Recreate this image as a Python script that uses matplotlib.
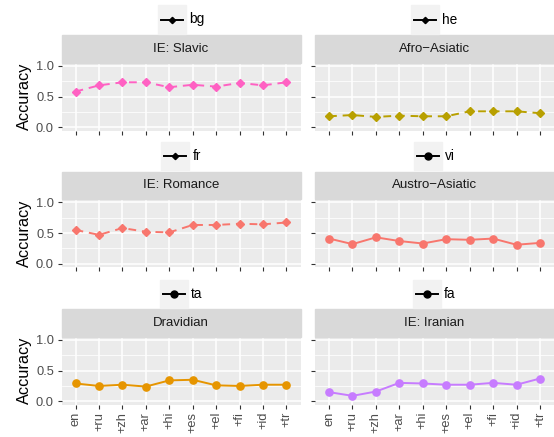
import matplotlib
matplotlib.use("Agg")
import matplotlib.pyplot as plt
from matplotlib.patches import Rectangle
from matplotlib.lines import Line2D

plt.rcParams['font.family'] = ['Liberation Sans', 'DejaVu Sans']

# ── data ─────────────────────────────
pasos = ["en", "+ru", "+zh", "+ar", "+hi", "+es", "+el", "+fi", "+id", "+tr"]

familias = ["IE: Slavic", "Afro\u2212Asiatic", "IE: Romance",
            "Austro\u2212Asiatic", "Dravidian", "IE: Iranian"]
idiomas = ["bg", "he", "fr", "vi", "ta", "fa"]

acc_bg = [0.58, 0.68, 0.73, 0.73, 0.65, 0.69, 0.66, 0.72, 0.68, 0.73]
acc_he = [0.18, 0.20, 0.17, 0.19, 0.18, 0.18, 0.26, 0.26, 0.26, 0.23]
acc_fr = [0.55, 0.47, 0.58, 0.52, 0.51, 0.63, 0.63, 0.65, 0.64, 0.67]
acc_vi = [0.41, 0.32, 0.43, 0.37, 0.33, 0.40, 0.39, 0.41, 0.31, 0.34]
acc_ta = [0.29, 0.25, 0.27, 0.24, 0.34, 0.35, 0.26, 0.25, 0.27, 0.27]
acc_fa = [0.15, 0.09, 0.16, 0.30, 0.29, 0.27, 0.27, 0.30, 0.27, 0.37]
valores = [acc_bg, acc_he, acc_fr, acc_vi, acc_ta, acc_fa]

colores = ["#FF61C3", "#B8A000", "#F8766D", "#F8766D", "#E69500", "#C77CFF"]
punteada = [True, True, True, False, False, False]

# ── layout (pixels) ──────────────────
W, H = 554, 437
COL_X = [61.5, 315]
PANEL_W = 239
ROW_TOP = [62.5, 199, 336.5]
PANEL_H = 68
STRIP_H = 27.5
KEY = 28

fig = plt.figure(figsize=(W / 100, H / 100), dpi=100)
renderer = fig.canvas.get_renderer()


def fx(px):
    return px / W


def fy(py):
    return 1 - py / H


for i in range(6):
    fila, col = divmod(i, 2)
    x0 = COL_X[col]
    top = ROW_TOP[fila]
    ax = fig.add_axes([fx(x0), fy(top + PANEL_H), PANEL_W / W, PANEL_H / H])
    ax.set_facecolor("#EBEBEB")
    for s in ax.spines.values():
        s.set_visible(False)
    xs = list(range(len(pasos)))
    ax.set_xlim(-0.6, len(pasos) - 0.4)
    ax.set_ylim(-0.05, 1.05)
    ax.set_yticks([0.0, 0.5, 1.0])
    ax.set_yticks([0.25, 0.75], minor=True)
    ax.set_xticks(xs)
    ax.grid(True, which="major", color="white", lw=1.1)
    ax.grid(True, which="minor", axis="y", color="white", lw=0.55)
    ax.set_axisbelow(True)
    ax.tick_params(which="major", length=2.9, width=0.8, color="#333333",
                   labelcolor="#4D4D4D", labelsize=9.3, pad=2.5)
    ax.tick_params(which="minor", length=0)

    if punteada[i]:
        ax.plot(xs, valores[i], color=colores[i], lw=1.4, ls=(0, (4, 3)),
                marker="D", ms=3.8, zorder=3)
    else:
        ax.plot(xs, valores[i], color=colores[i], lw=1.4,
                marker="o", ms=5.2, zorder=3)

    if col == 0:
        ax.set_yticklabels(["0.0", "0.5", "1.0"])
        ax.set_ylabel("Accuracy", fontsize=11.7, color="black", labelpad=3)
    else:
        ax.set_yticklabels([])
    if fila == 2:
        ax.set_xticklabels(pasos, rotation=90, va="top", ha="center")
    else:
        ax.set_xticklabels([])

    # strip
    fig.patches.append(Rectangle((fx(x0), fy(top)), PANEL_W / W, STRIP_H / H,
                                 transform=fig.transFigure, color="#D9D9D9",
                                 zorder=0))
    fig.text(fx(x0 + PANEL_W / 2), fy(top - STRIP_H / 2), familias[i],
             ha="center", va="center", fontsize=9.5, color="#1A1A1A")

    # legend above
    t = fig.text(0, 0, idiomas[i], fontsize=9.8, color="black",
                 ha="left", va="center")
    tw = t.get_window_extent(renderer).width
    total = KEY + 3 + tw
    kx = x0 + PANEL_W / 2 - total / 2
    ktop = top - STRIP_H - 1.5 - KEY
    fig.patches.append(Rectangle((fx(kx), fy(ktop + KEY)), KEY / W, KEY / H,
                                 transform=fig.transFigure, color="#F2F2F2",
                                 zorder=0))
    cy = fy(ktop + KEY / 2)
    fig.lines.append(Line2D([fx(kx + 3), fx(kx + KEY - 3)], [cy, cy],
                            transform=fig.transFigure, color="black", lw=1.4))
    fig.lines.append(Line2D([fx(kx + KEY / 2)], [cy], transform=fig.transFigure,
                            color="black", marker="D" if punteada[i] else "o",
                            ms=3.2 if punteada[i] else 5.0))
    t.set_position((fx(kx + KEY + 3), cy))

fig.savefig("out.png", dpi=100)
